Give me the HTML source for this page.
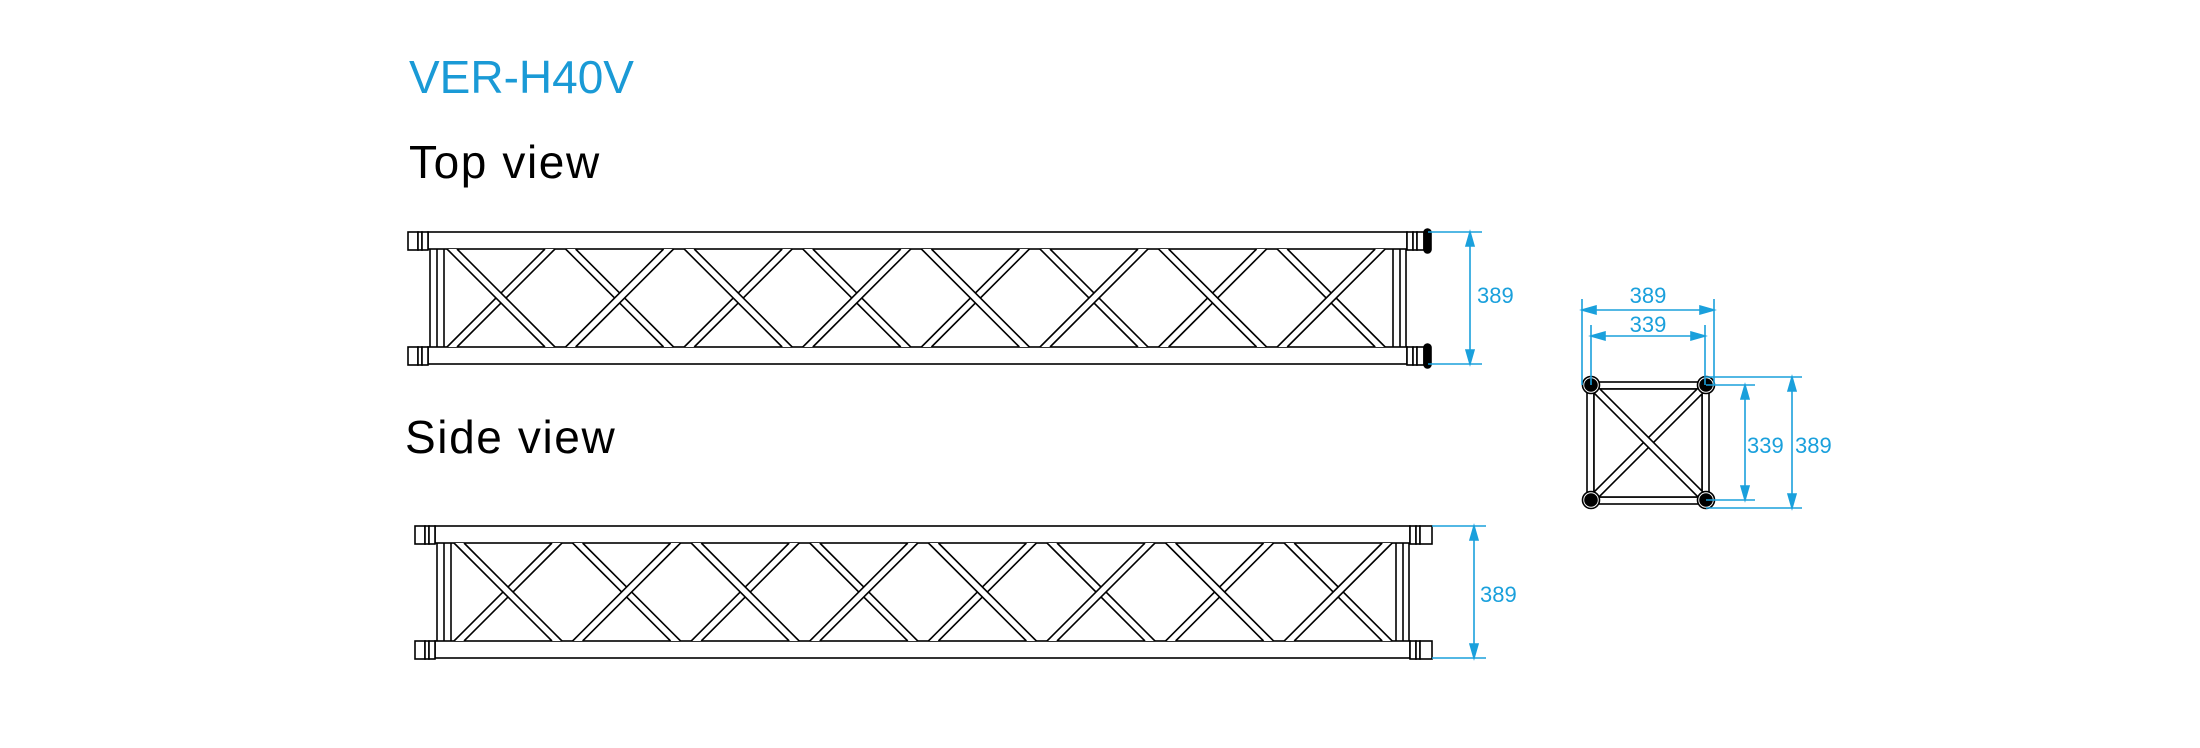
<!DOCTYPE html>
<html><head><meta charset="utf-8"><style>
html,body{margin:0;padding:0;background:#fff;width:2200px;height:748px;overflow:hidden}
svg{display:block}
</style></head><body>
<svg id="s" width="2200" height="748" xmlns="http://www.w3.org/2000/svg">
<text x="409" y="93" font-family="Liberation Sans, sans-serif" font-size="46" fill="#1a9ad6">VER-H40V</text>
<text x="409" y="178" font-family="Liberation Sans, sans-serif" font-size="46" letter-spacing="1.6" fill="#000">Top view</text>
<text x="405" y="453" font-family="Liberation Sans, sans-serif" font-size="46" letter-spacing="1.6" fill="#000">Side view</text>
<g id="g" fill="none" stroke="#000" stroke-width="1.6"></g>
<g id="d" fill="none" stroke="#1aa0dc" stroke-width="1.6"></g>
<g font-family="Liberation Sans, sans-serif" font-size="22" fill="#1aa0dc">
<text x="1477" y="303">389</text>
<text x="1480" y="602">389</text>
<text x="1648" y="303" text-anchor="middle">389</text>
<text x="1648" y="332" text-anchor="middle">339</text>
<text x="1747" y="453">339</text>
<text x="1795" y="453">389</text>
</g>
</svg>
<script>
var g=document.getElementById('g'),d=document.getElementById('d'),NS='http://www.w3.org/2000/svg';
function el(p,t,a){var e=document.createElementNS(NS,t);for(var k in a)e.setAttribute(k,a[k]);p.appendChild(e);return e}
function L(p,x1,y1,x2,y2){el(p,'line',{x1:x1,y1:y1,x2:x2,y2:y2})}
function R(p,x,y,w,h,f){el(p,'rect',{x:x,y:y,width:w,height:h,fill:f||'#fff'})}
function tube(x1,y1,x2,y2,dx){ // parallelogram tube
 el(g,'polygon',{points:x1+','+y1+' '+(x1+dx)+','+y1+' '+(x2+dx)+','+y2+' '+x2+','+y2,fill:'#fff',stroke:'none'});
 L(g,x1,y1,x2,y2);L(g,x1+dx,y1,x2+dx,y2);}
function truss(cx0,cx1,y0,top){
 var yt=y0, ch=17, yb=y0+115;
 R(g,cx0,yt,cx1-cx0,ch);R(g,cx0,yb,cx1-cx0,ch);
 L(g,cx0+2,yt+ch,cx0+2,yb);L(g,cx0+9,yt+ch,cx0+9,yb);L(g,cx0+16,yt+ch,cx0+16,yb);
 L(g,cx1-14,yt+ch,cx1-14,yb);L(g,cx1-7,yt+ch,cx1-7,yb);L(g,cx1-1,yt+ch,cx1-1,yb);
 var a=yt+ch,b=yb,x0=cx0+19,w=108,p=118.6,dx=10;
 for(var i=0;i<8;i++){var x=x0+i*p;
  if(i%2==0){tube(x,b,x+w-dx,a,dx);tube(x,a,x+w-dx,b,dx);}
  else{tube(x,a,x+w-dx,b,dx);tube(x,b,x+w-dx,a,dx);}}
 [yt,yb].forEach(function(y){
  R(g,cx0-20,y,10,ch+1);R(g,cx0-10,y,4,ch+1);R(g,cx0-6,y,6,ch+1);
  if(top){R(g,cx1,y,6,ch+1);R(g,cx1+6,y,4,ch+1);R(g,cx1+10,y,7,ch+1);
   el(g,'rect',{x:cx1+17,y:y-3,width:7,height:ch+7,rx:3.5,fill:'#000'});}
  else{R(g,cx1,y,6,ch+1);R(g,cx1+6,y,4,ch+1);R(g,cx1+10,y,12,ch+1);}
 });
}
truss(428,1407,232,true);
truss(435,1410,526,false);
function arrowV(x,y1,y2){L(d,x,y1+2,x,y2-2);
 el(d,'path',{d:'M'+(x-4)+' '+(y1+14)+'L'+x+' '+y1+'L'+(x+4)+' '+(y1+14)+'Z',fill:'#1aa0dc'});
 el(d,'path',{d:'M'+(x-4)+' '+(y2-14)+'L'+x+' '+y2+'L'+(x+4)+' '+(y2-14)+'Z',fill:'#1aa0dc'});}
function arrowH(y,x1,x2){L(d,x1+2,y,x2-2,y);
 el(d,'path',{d:'M'+(x1+14)+' '+(y-4)+'L'+x1+' '+y+'L'+(x1+14)+' '+(y+4)+'Z',fill:'#1aa0dc'});
 el(d,'path',{d:'M'+(x2-14)+' '+(y-4)+'L'+x2+' '+y+'L'+(x2-14)+' '+(y+4)+'Z',fill:'#1aa0dc'});}
L(d,1428,232,1482,232);L(d,1428,364,1482,364);arrowV(1470,232,364);
L(d,1432,526,1486,526);L(d,1432,658,1486,658);arrowV(1474,526,658);
var A=[1591,385],B=[1706,385],C=[1591,500],D=[1706,500];
R(g,1587,382,122,7);R(g,1587,497,122,7);R(g,1587,382,7,122);R(g,1702,382,7,122);
function dbl(p,q){var ux=q[0]-p[0],uy=q[1]-p[1],l=Math.hypot(ux,uy),nx=-uy/l*3.5,ny=ux/l*3.5;
 el(g,'polygon',{points:(p[0]+nx)+','+(p[1]+ny)+' '+(q[0]+nx)+','+(q[1]+ny)+' '+(q[0]-nx)+','+(q[1]-ny)+' '+(p[0]-nx)+','+(p[1]-ny),fill:'#fff',stroke:'none'});
 L(g,p[0]+nx,p[1]+ny,q[0]+nx,q[1]+ny);L(g,p[0]-nx,p[1]-ny,q[0]-nx,q[1]-ny);}
R(g,1594,389,108,108);
dbl(C,B);dbl(A,D);
[A,B,C,D].forEach(function(c){el(g,'circle',{cx:c[0],cy:c[1],r:8.5,fill:'#fff'});el(g,'circle',{cx:c[0],cy:c[1],r:6,fill:'#000'});});
L(d,1582,299,1582,385);L(d,1714,299,1714,385);arrowH(310,1582,1714);
L(d,1591,325,1591,385);L(d,1705,325,1705,385);arrowH(336,1591,1705);
L(d,1706,385,1755,385);L(d,1706,500,1755,500);arrowV(1745,385,500);
L(d,1706,377,1802,377);L(d,1706,508,1802,508);arrowV(1792,377,508);
</script>
</body></html>
